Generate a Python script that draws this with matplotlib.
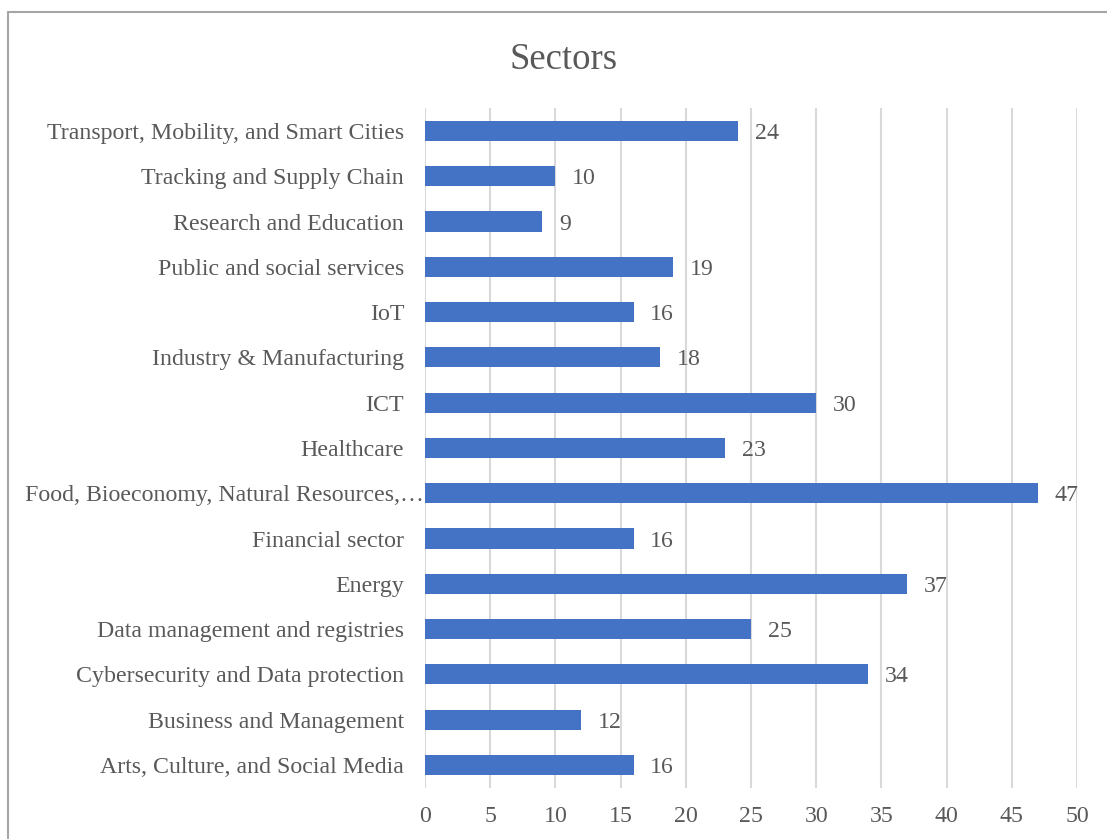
import matplotlib
matplotlib.use("Agg")
import matplotlib.pyplot as plt
import matplotlib.transforms as mtransforms
from matplotlib.patches import Rectangle

categories = [
    "Arts, Culture, and Social Media",
    "Business and Management",
    "Cybersecurity and Data protection",
    "Data management and registries",
    "Energy",
    "Financial sector",
    "Food, Bioeconomy, Natural Resources,\u2026",
    "Healthcare",
    "ICT",
    "Industry & Manufacturing",
    "IoT",
    "Public and social services",
    "Research and Education",
    "Tracking and Supply Chain",
    "Transport, Mobility, and Smart Cities",
]
values = [16, 12, 34, 25, 37, 16, 47, 23, 30, 18, 16, 19, 9, 10, 24]
xticks = [0, 5, 10, 15, 20, 25, 30, 35, 40, 45, 50]
title = "Sectors"

text_color = "#595959"
bar_color = "#4472C4"
grid_color = "#D9D9D9"

plt.rcParams["font.family"] = ["Liberation Serif", "DejaVu Serif"]

fig = plt.figure(figsize=(11.07, 8.39), dpi=100)
ax = fig.add_axes([425 / 1107, 51.4 / 839, 652 / 1107, 679.3 / 839])

y = list(range(len(categories)))
ax.barh(y, values, height=0.444, color=bar_color, zorder=3)
ax.set_ylim(-0.5, len(categories) - 0.5)
ax.set_xlim(0, 50)
ax.set_xticks(xticks)
ax.set_yticks(y)
ax.set_yticklabels(categories)
ax.tick_params(axis="both", length=0, labelsize=17.2, colors=text_color)
ax.tick_params(axis="y", pad=15)
ax.tick_params(axis="x", pad=13)
for s in ax.spines.values():
    s.set_visible(False)
ax.grid(axis="x", color=grid_color, linewidth=1.5, zorder=0)
ax.set_axisbelow(True)

# the truncated long label sits further right, touching the bar
for lbl in ax.get_yticklabels():
    if lbl.get_text().endswith("\u2026"):
        lbl.set_transform(lbl.get_transform() +
                          mtransforms.ScaledTranslation(0.2, 0, fig.dpi_scale_trans))

for yi, v in zip(y, values):
    ax.annotate(str(v), (v, yi), xytext=(12, 0), textcoords="offset points",
                ha="left", va="center_baseline", fontsize=17.2, color=text_color)

fig.text(564 / 1107, 1 - 60 / 839, title, ha="center", va="center",
         fontsize=26.5, color=text_color)

fig.patches.append(Rectangle((8 / 1107, -0.1), 1.2, 1 - 12 / 839 + 0.1,
                             transform=fig.transFigure, fill=False,
                             edgecolor="#A6A6A6", linewidth=1.5))

fig.savefig("out.png", dpi=100, facecolor="white")
